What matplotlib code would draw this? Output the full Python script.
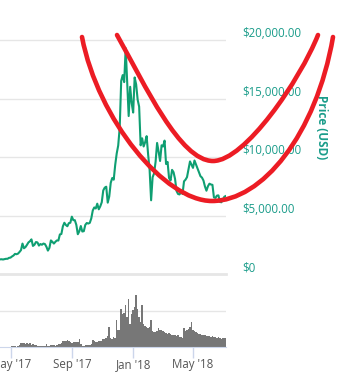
import matplotlib
matplotlib.use("Agg")
import matplotlib.pyplot as plt
from matplotlib.path import Path
from matplotlib.patches import PathPatch
from matplotlib.transforms import Affine2D
import pandas as pd

# ---- data (one value every 3 days) ----
START = "2017-04-09"
STEP = "3D"

price_usd = [
    1250, 1260, 1240, 1270, 1300, 1300, 1380, 1400,
    1500, 1580, 1720, 1690, 1740, 1880, 2040, 2600, 2200, 2300,
    2490, 2700, 2800, 2960, 2400, 2500, 2730, 2700, 2430, 2560,
    2500, 2600, 2560, 2330, 2000, 2230, 2870, 2750, 2600, 2750,
    2870, 2860, 3380, 3420, 4070, 4380, 4190, 4080, 4350, 4380, 4900,
    4600, 4600, 4200, 3400, 3650, 4100, 3630, 3660, 4200, 4360,
    4310, 4370, 4750, 5430, 5690, 5600, 6010, 5530, 5780, 6130,
    7140, 7380, 7460, 6100, 6620, 7790, 8200, 8060, 9330, 10300,
    10980, 12500, 16500, 17000, 16400, 19300, 16500, 13500, 16000, 14600,
    13800, 16800, 16200, 14900, 14300, 11000, 11600, 10900, 11260, 11780, 10220,
    8900, 6300, 8270, 8600, 9600, 11200, 10470, 9660, 11000,
    10900, 11400, 9400, 9580, 8200, 7990, 8900, 8700, 8130, 7100,
    6840, 6800, 7020, 6840, 7920, 8060, 8280, 8930, 9620, 9340,
    9070, 9700, 9370, 9050, 8720, 8360, 8240, 7990, 7480, 7120, 7500,
    7720, 7650, 7620, 6550, 6500, 6700, 6720, 6160, 6130, 6390,
    6610, 6670,
]

volume_bn = [
    0, 0, 0, 0, 0, 0, 0, 0,
    0.6, 0.5, 0.4, 0.2, 0.3, 1.0, 1.5, 1.7, 1.5, 1.3,
    1.5, 1.3, 1.5, 1.0, 1.3, 1.0, 0.8, 0.6, 0.6, 0.5,
    0.5, 0.6, 0.5, 1.2, 0.6, 0.6, 1.0, 1.0, 0.8, 0.6,
    0.8, 1.3, 1.3, 1.7, 2.4, 2.5, 2.4, 2.8, 2.7, 1.9, 1.7,
    2.1, 2.1, 1.9, 1.9, 3.2, 1.3, 0.6, 0.6, 0.8, 0.8,
    0.8, 1.0, 1.3, 2.8, 2.5, 2.1, 2.1, 2.3, 2.5, 2.5,
    3.5, 3.3, 3.8, 4.5, 8.3, 3.8, 3.3, 4.2, 3.8, 11.3,
    7.1, 7.1, 15.8, 13.8, 14.2, 17.5, 12.5, 20.0, 9.6, 13.8,
    15.4, 16.7, 21.7, 15.8, 12.5, 10.4, 17.5, 9.6, 8.8, 8.3, 7.9,
    8.3, 11.3, 6.7, 6.3, 6.3, 6.7, 7.9, 7.1, 7.1,
    6.7, 6.3, 5.8, 5.4, 5.8, 5.4, 5.0, 5.0, 5.0, 4.6,
    5.0, 4.2, 4.2, 3.8, 7.9, 6.7, 7.1, 7.5, 8.3, 10.4,
    7.1, 6.7, 6.3, 5.8, 5.4, 5.4, 5.0, 5.0, 5.0, 4.6, 4.6,
    4.6, 4.2, 4.6, 4.2, 4.2, 3.8, 4.2, 3.8, 3.3, 3.8,
    3.8, 3.8,
]

price_ticks = [0, 5000, 10000, 15000, 20000]
price_tick_labels = ["$0", "$5,000.00", "$10,000.00", "$15,000.00", "$20,000.00"]
date_ticks = ["2017-05-01", "2017-09-01", "2018-01-01", "2018-05-01"]
date_tick_labels = ["May '17", "Sep '17", "Jan '18", "May '18"]

dates = pd.date_range(START, periods=len(price_usd), freq=STEP)

# ---- style ----
GREEN = "#0f9f72"
TEAL_TXT = "#1a9c8a"
GRID = "#e6e6e6"
AXIS = "#ccd6eb"
RED = "#ec1c24"
plt.rcParams["font.family"] = ["Open Sans", "DejaVu Sans"]

W, H = 345, 383
fig = plt.figure(figsize=(W / 100, H / 100), dpi=100)


def px_box(left, top, right, bottom):
    # pixel box (top-left origin) -> figure fraction rect
    return [left / W, 1 - bottom / H, (right - left) / W, (bottom - top) / H]


xlim = (pd.Timestamp("2017-04-08 22:00"), pd.Timestamp("2018-07-06 05:00"))

# price panel
ax = fig.add_axes(px_box(0, 16.6, 226, 274))
ax.plot(dates, price_usd, color=GREEN, lw=1.5, solid_joinstyle="round", zorder=3)
ax.set_xlim(xlim)
ax.set_ylim(0, 22000)
ax.set_yticks(price_ticks)
ax.yaxis.tick_right()
ax.set_yticklabels(price_tick_labels)
ax.tick_params(axis="y", length=0, pad=11.5, labelsize=8.3, labelcolor=TEAL_TXT)
for lab in ax.get_yticklabels():
    lab.set_verticalalignment("bottom")
ax.set_xticks([])
ax.grid(axis="y", color=GRID, lw=1)
for s in ["top", "left", "right"]:
    ax.spines[s].set_visible(False)
ax.spines["bottom"].set_color(GRID)
ax.spines["bottom"].set_linewidth(2)
ax.patch.set_alpha(0)

fig.text(322 / W, 1 - 127 / H, "Price (USD)", rotation=270, ha="center", va="center",
         fontsize=8.5, fontweight="bold", color=TEAL_TXT)

# volume panel
axv = fig.add_axes(px_box(0, 290, 226, 347))
axv.bar(dates, volume_bn, width=3, color="#777777", linewidth=0, align="center")
axv.set_xlim(xlim)
axv.set_ylim(0, 23.75)
axv.set_yticks([15])
axv.set_yticklabels([])
axv.tick_params(axis="y", length=0)
axv.grid(axis="y", color=GRID, lw=1)
axv.set_axisbelow(True)
axv.set_xticks(pd.to_datetime(date_ticks))
axv.set_xticklabels(date_tick_labels)
axv.tick_params(axis="x", length=8, width=1, color=AXIS, labelsize=8.3,
                labelcolor="#555555", pad=0)
for s in ["top", "left", "right"]:
    axv.spines[s].set_visible(False)
axv.spines["bottom"].set_color(AXIS)

# hand-drawn red arcs (figure pixel coordinates, top-left origin)
to_fig = Affine2D().scale(1 / W, -1 / H).translate(0, 1) + fig.transFigure
arcs = [
    [(117, 35), (145, 85), (180, 161), (213, 161),
     (245, 161), (300, 80), (318, 35)],
    [(82, 37), (98, 120), (165, 201), (212, 201),
     (262, 201), (316, 135), (333, 37)],
]
codes = [Path.MOVETO] + [Path.CURVE4] * 6
for pts in arcs:
    patch = PathPatch(Path(pts, codes), transform=to_fig, fill=False,
                      edgecolor=RED, lw=3.3, capstyle="round", zorder=10)
    fig.add_artist(patch)

fig.savefig("out.png", dpi=100)
